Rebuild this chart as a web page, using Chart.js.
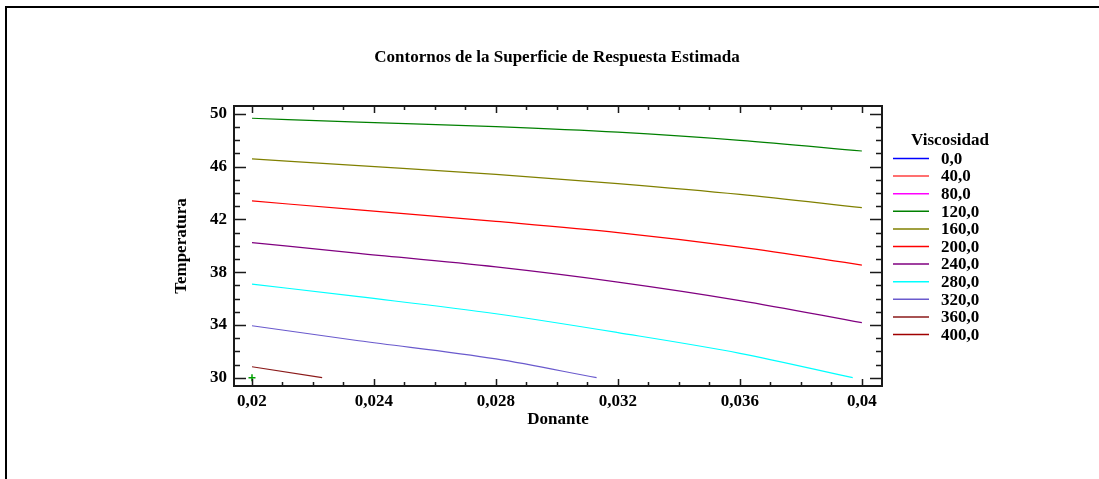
<!DOCTYPE html>
<html>
<head>
<meta charset="utf-8">
<script src="https://cdn.jsdelivr.net/npm/chart.js@4.4.1/dist/chart.umd.min.js"></script>
<style>
  html, body { margin: 0; padding: 0; background: #ffffff; }
  canvas { display: block; }
</style>
</head>
<body>
<canvas id="c" width="1099" height="479"></canvas>
<script>
// Axis ticks
const xTickValues = [0.020, 0.024, 0.028, 0.032, 0.036, 0.040];
const xTickLabels = ['0,02', '0,024', '0,028', '0,032', '0,036', '0,04'];
const yTickValues = [30, 34, 38, 42, 46, 50];
const yTickLabels = ['30', '34', '38', '42', '46', '50'];

// Contour levels (legend)
const levelLabels = ['0,0', '40,0', '80,0', '120,0', '160,0', '200,0', '240,0', '280,0', '320,0', '360,0', '400,0'];

// Contour lines: Donante (x) and Temperatura (y)
const c120Donante = [0.020, 0.0235, 0.028, 0.032, 0.036, 0.040];
const c120Temp    = [49.67, 49.38, 49.04, 48.62, 48.00, 47.19];
const c160Donante = [0.020, 0.0235, 0.028, 0.032, 0.036, 0.040];
const c160Temp    = [46.59, 46.08, 45.42, 44.72, 43.90, 42.89];
const c200Donante = [0.020, 0.0235, 0.028, 0.032, 0.036, 0.040];
const c200Temp    = [43.40, 42.72, 41.85, 41.00, 39.90, 38.54];
const c240Donante = [0.020, 0.0235, 0.028, 0.032, 0.036, 0.040];
const c240Temp    = [40.24, 39.43, 38.40, 37.25, 35.85, 34.17];
const c280Donante = [0.020, 0.0235, 0.028, 0.032, 0.036, 0.0397];
const c280Temp    = [37.10, 36.14, 34.85, 33.42, 31.85, 30.00];
const c320Donante = [0.020, 0.0235, 0.028, 0.0313];
const c320Temp    = [33.94, 32.80, 31.42, 30.00];
const c360Donante = [0.020, 0.0223];
const c360Temp    = [30.83, 30.00];

// Single marked point
const markDonante = [0.020];
const markTemp    = [30.0];

const contourLines = {
  '120,0': [c120Donante, c120Temp],
  '160,0': [c160Donante, c160Temp],
  '200,0': [c200Donante, c200Temp],
  '240,0': [c240Donante, c240Temp],
  '280,0': [c280Donante, c280Temp],
  '320,0': [c320Donante, c320Temp],
  '360,0': [c360Donante, c360Temp]
};

// Line colours per level
const levelColors = ['#0000ff', '#ff4040', '#ff00ff', '#008000', '#808000', '#ff0000',
                     '#800080', '#00ffff', '#6a5acd', '#8b1a1a', '#a00000'];

const FONT = 'Liberation Serif, Times New Roman, serif';
const TITLE = 'Contornos de la Superficie de Respuesta Estimada';

const toPoints = (xs, ys) => xs.map((v, i) => ({ x: v, y: ys[i] }));

const datasets = levelLabels.map((lab, i) => {
  const line = contourLines[lab];
  return {
    label: lab,
    data: line ? toPoints(line[0], line[1]) : [],
    borderColor: levelColors[i],
    backgroundColor: levelColors[i],
    borderWidth: 1.2,
    showLine: true,
    pointRadius: 0,
    cubicInterpolationMode: 'monotone',
    fill: false
  };
});
datasets.push({
  label: 'punto',
  data: toPoints(markDonante, markTemp),
  showLine: false,
  pointStyle: 'cross',
  pointRadius: 3.5,
  borderWidth: 1.5,
  borderColor: '#00a000',
  backgroundColor: '#00a000'
});

// Outer picture border and chart title
const pageBorder = {
  id: 'pageBorder',
  beforeDraw(chart) {
    const ctx = chart.ctx;
    ctx.save();
    ctx.fillStyle = '#ffffff';
    ctx.fillRect(0, 0, chart.width, chart.height);
    ctx.strokeStyle = '#000000';
    ctx.lineWidth = 2;
    ctx.strokeRect(6, 7, chart.width + 20, chart.height + 20);
    ctx.font = 'bold 17px ' + FONT;
    ctx.fillStyle = '#000000';
    ctx.textAlign = 'center';
    ctx.textBaseline = 'middle';
    ctx.fillText(TITLE, 557, 58);
    ctx.restore();
  }
};

// Plot frame with inward major and minor ticks on all four sides
const frameTicks = {
  id: 'frameTicks',
  afterDatasetsDraw(chart) {
    const { ctx, chartArea: a, scales: { x, y } } = chart;
    ctx.save();
    ctx.strokeStyle = '#1a1a1a';
    ctx.lineWidth = 2;
    ctx.strokeRect(a.left, a.top, a.right - a.left, a.bottom - a.top);
    ctx.lineWidth = 1.5;
    ctx.beginPath();
    for (let i = 0; i <= 20; i++) {
      const px = Math.round(x.getPixelForValue((20 + i) / 1000)) + 0.5;
      const len = i % 4 === 0 ? 7 : 4;
      ctx.moveTo(px, a.bottom); ctx.lineTo(px, a.bottom - len);
      ctx.moveTo(px, a.top); ctx.lineTo(px, a.top + len);
    }
    for (let t = 30; t <= 50; t++) {
      const py = Math.round(y.getPixelForValue(t)) + 0.5;
      const len = (t - 30) % 4 === 0 ? 12 : 6;
      ctx.moveTo(a.left, py); ctx.lineTo(a.left + len, py);
      ctx.moveTo(a.right, py); ctx.lineTo(a.right - len, py);
    }
    ctx.stroke();
    ctx.restore();
  }
};

// Legend block on the right
const levelLegend = {
  id: 'levelLegend',
  afterDraw(chart) {
    const ctx = chart.ctx;
    ctx.save();
    ctx.font = 'bold 17px ' + FONT;
    ctx.fillStyle = '#000000';
    ctx.textBaseline = 'middle';
    ctx.textAlign = 'center';
    ctx.fillText('Viscosidad', 950, 141);
    ctx.textAlign = 'left';
    chart.data.datasets.forEach((ds, i) => {
      if (i >= levelLabels.length) return;
      const ry = 158.5 + i * 17.6;
      ctx.strokeStyle = ds.borderColor;
      ctx.lineWidth = 1.5;
      ctx.beginPath();
      ctx.moveTo(893, ry); ctx.lineTo(929, ry);
      ctx.stroke();
      ctx.fillText(ds.label, 941, ry + 1);
    });
    ctx.restore();
  }
};

new Chart(document.getElementById('c'), {
  type: 'scatter',
  data: { datasets },
  options: {
    responsive: false,
    animation: false,
    devicePixelRatio: 1,
    layout: { padding: { left: 160, right: 217, top: 106, bottom: 0 } },
    plugins: {
      legend: { display: false },
      tooltip: { enabled: false },
      title: { display: false }
    },
    scales: {
      x: {
        type: 'linear',
        min: 0.01941,
        max: 0.04066,
        grid: { display: false, drawTicks: false },
        border: { display: false },
        afterBuildTicks: s => { s.ticks = xTickValues.map(v => ({ value: v })); },
        afterFit: s => { s.height = 93; },
        ticks: {
          color: '#000000',
          padding: 5,
          font: { family: FONT, size: 17, weight: 'bold' },
          callback: (v, i) => xTickLabels[i]
        },
        title: {
          display: true,
          text: 'Donante',
          color: '#000000',
          font: { family: FONT, size: 17, weight: 'bold' },
          padding: { top: 0, bottom: 49 }
        }
      },
      y: {
        type: 'linear',
        min: 29.37,
        max: 50.6,
        grid: { display: false, drawTicks: false },
        border: { display: false },
        afterBuildTicks: s => { s.ticks = yTickValues.map(v => ({ value: v })); },
        afterFit: s => { s.width = 74; },
        ticks: {
          color: '#000000',
          padding: 7,
          font: { family: FONT, size: 17, weight: 'bold' },
          callback: (v, i) => yTickLabels[i]
        },
        title: {
          display: true,
          text: 'Temperatura',
          color: '#000000',
          font: { family: FONT, size: 17, weight: 'bold' },
          padding: { top: 11, bottom: 0 }
        }
      }
    }
  },
  plugins: [pageBorder, frameTicks, levelLegend]
});
</script>
</body>
</html>
